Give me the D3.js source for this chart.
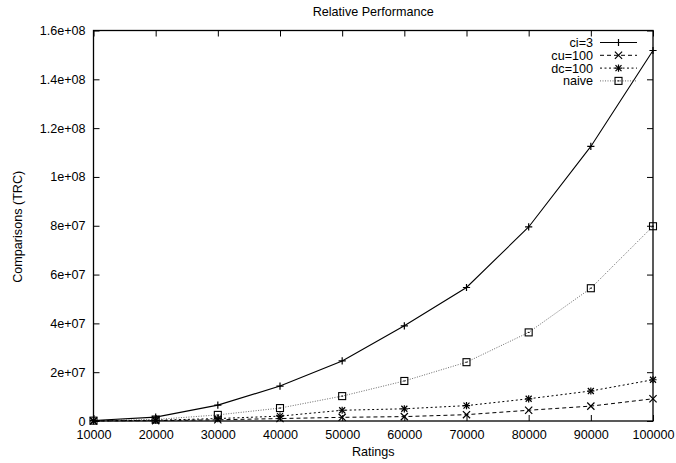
<!DOCTYPE html>
<html>
<head>
<meta charset="utf-8">
<script src="https://cdn.jsdelivr.net/npm/d3@7"></script>
<style>
  body { margin: 0; background: #fff; }
  svg { font-family: "Liberation Sans", Arial, Helvetica, sans-serif; }
</style>
</head>
<body>
<svg id="chart" width="676" height="463"></svg>
<script>
// Data
const ratings = [10000, 20000, 30000, 40000, 50000, 60000, 70000, 80000, 90000, 100000];
const ci3 = [0.2e6, 1.6e6, 6.5e6, 14.3e6, 24.6e6, 39.0e6, 54.7e6, 79.5e6, 112.5e6, 151.8e6];
const cu100 = [0.02e6, 0.15e6, 0.5e6, 1.0e6, 1.5e6, 1.8e6, 2.6e6, 4.4e6, 6.1e6, 9.1e6];
const dc100 = [0.05e6, 0.3e6, 1.0e6, 2.0e6, 4.4e6, 5.0e6, 6.3e6, 9.1e6, 12.3e6, 16.9e6];
const naive = [0.15e6, 0.6e6, 2.5e6, 5.3e6, 10.2e6, 16.4e6, 24.1e6, 36.3e6, 54.4e6, 79.8e6];
const yTicks = [0, 2e7, 4e7, 6e7, 8e7, 1e8, 1.2e8, 1.4e8, 1.6e8];
const yTickLabels = ["0", "2e+07", "4e+07", "6e+07", "8e+07", "1e+08", "1.2e+08", "1.4e+08", "1.6e+08"];
const seriesNames = ["ci=3", "cu=100", "dc=100", "naive"];

const series = [
    { name: seriesNames[0], values: ci3, dash: null, marker: "plus", color: "#000", width: 1.1 },
    { name: seriesNames[1], values: cu100, dash: "4,3", marker: "cross", color: "#000", width: 1 },
    { name: seriesNames[2], values: dc100, dash: "2,2.5", marker: "star", color: "#000", width: 1 },
    { name: seriesNames[3], values: naive, dash: "1,1.5", marker: "box", color: "#444", width: 0.8 },
];

const fontSize = 12.6;

const svg = d3.select("#chart");
const margin = { left: 93.5, right: 23, top: 30.5, bottom: 42 };
const width = +svg.attr("width");
const height = +svg.attr("height");
const chartWidth = width - margin.left - margin.right;
const chartHeight = height - margin.top - margin.bottom;

const g = svg.append("g")
    .attr("transform", `translate(${margin.left},${margin.top})`);

const xScale = d3.scaleLinear().domain([10000, 100000]).range([0, chartWidth]);
const yScale = d3.scaleLinear().domain([0, 1.6e8]).range([chartHeight, 0]);

const tickLen = 6;

// bottom axis, ticks pointing inward
const xAxis = d3.axisBottom(xScale).tickValues(ratings).tickSize(-tickLen).tickPadding(9).tickFormat(d3.format("d"));
g.append("g")
    .attr("transform", `translate(0,${chartHeight})`)
    .call(xAxis)
    .call(a => a.select(".domain").remove())
    .selectAll("text").attr("font-size", fontSize).attr("fill", "#000");

// top mirror ticks
g.append("g")
    .call(d3.axisTop(xScale).tickValues(ratings).tickSize(-tickLen).tickFormat(""))
    .call(a => a.select(".domain").remove());

// left axis
const yAxis = d3.axisLeft(yScale).tickValues(yTicks).tickSize(-tickLen).tickPadding(8)
    .tickFormat((d, i) => yTickLabels[i]);
g.append("g")
    .call(yAxis)
    .call(a => a.select(".domain").remove())
    .selectAll("text").attr("font-size", fontSize).attr("fill", "#000");

// right mirror ticks
g.append("g")
    .attr("transform", `translate(${chartWidth},0)`)
    .call(d3.axisRight(yScale).tickValues(yTicks).tickSize(-tickLen).tickFormat(""))
    .call(a => a.select(".domain").remove());

g.selectAll(".tick line").attr("stroke", "#000");

// frame
g.append("rect")
    .attr("width", chartWidth)
    .attr("height", chartHeight)
    .attr("fill", "none")
    .attr("stroke", "#000")
    .attr("stroke-width", 1.3);

// markers
function drawMarker(sel, type, x, y, color) {
    const s = 3.6;
    if (type === "plus" || type === "star") {
        sel.append("path").attr("d", `M${x - s},${y}H${x + s}M${x},${y - s}V${y + s}`)
            .attr("stroke", color).attr("fill", "none").attr("stroke-width", 1.2);
    }
    if (type === "cross" || type === "star") {
        const c = type === "star" ? 3 : s;
        sel.append("path").attr("d", `M${x - c},${y - c}L${x + c},${y + c}M${x - c},${y + c}L${x + c},${y - c}`)
            .attr("stroke", color).attr("fill", "none").attr("stroke-width", 1.2);
    }
    if (type === "box") {
        sel.append("rect").attr("x", x - 3.5).attr("y", y - 3.5).attr("width", 7).attr("height", 7)
            .attr("fill", "none").attr("stroke", "#000").attr("stroke-width", 1.1);
        sel.append("path").attr("d", `M${x - 1},${y}H${x + 1}`).attr("stroke", "#000").attr("stroke-width", 1);
    }
}

const line = d3.line()
    .x((d, i) => xScale(ratings[i]))
    .y(d => yScale(d));

// draw in reverse so ci=3 is on top
series.slice().reverse().forEach(s => {
    g.append("path")
        .datum(s.values)
        .attr("d", line)
        .attr("fill", "none")
        .attr("stroke", s.color)
        .attr("stroke-width", s.width)
        .attr("stroke-dasharray", s.dash);
    const mg = g.append("g");
    s.values.forEach((v, i) => drawMarker(mg, s.marker, xScale(ratings[i]), yScale(v), "#000"));
});

// legend
const legend = svg.append("g");
series.forEach((s, i) => {
    const y = 42.5 + i * 12.8;
    legend.append("text")
        .attr("x", 593)
        .attr("y", y)
        .attr("dy", "0.36em")
        .attr("text-anchor", "end")
        .attr("font-size", fontSize)
        .text(s.name);
    legend.append("line")
        .attr("x1", 600).attr("x2", 637)
        .attr("y1", y).attr("y2", y)
        .attr("stroke", s.color)
        .attr("stroke-width", s.width)
        .attr("stroke-dasharray", s.dash);
    drawMarker(legend, s.marker, 618.5, y, "#000");
});

// title and axis labels
svg.append("text")
    .attr("x", margin.left + chartWidth / 2)
    .attr("y", 16)
    .attr("text-anchor", "middle")
    .attr("font-size", fontSize)
    .text("Relative Performance");

svg.append("text")
    .attr("x", margin.left + chartWidth / 2)
    .attr("y", 456)
    .attr("text-anchor", "middle")
    .attr("font-size", fontSize)
    .text("Ratings");

svg.append("text")
    .attr("transform", `translate(21.5,${margin.top + chartHeight / 2 + 1}) rotate(-90)`)
    .attr("text-anchor", "middle")
    .attr("font-size", fontSize)
    .text("Comparisons (TRC)");
</script>
</body>
</html>
